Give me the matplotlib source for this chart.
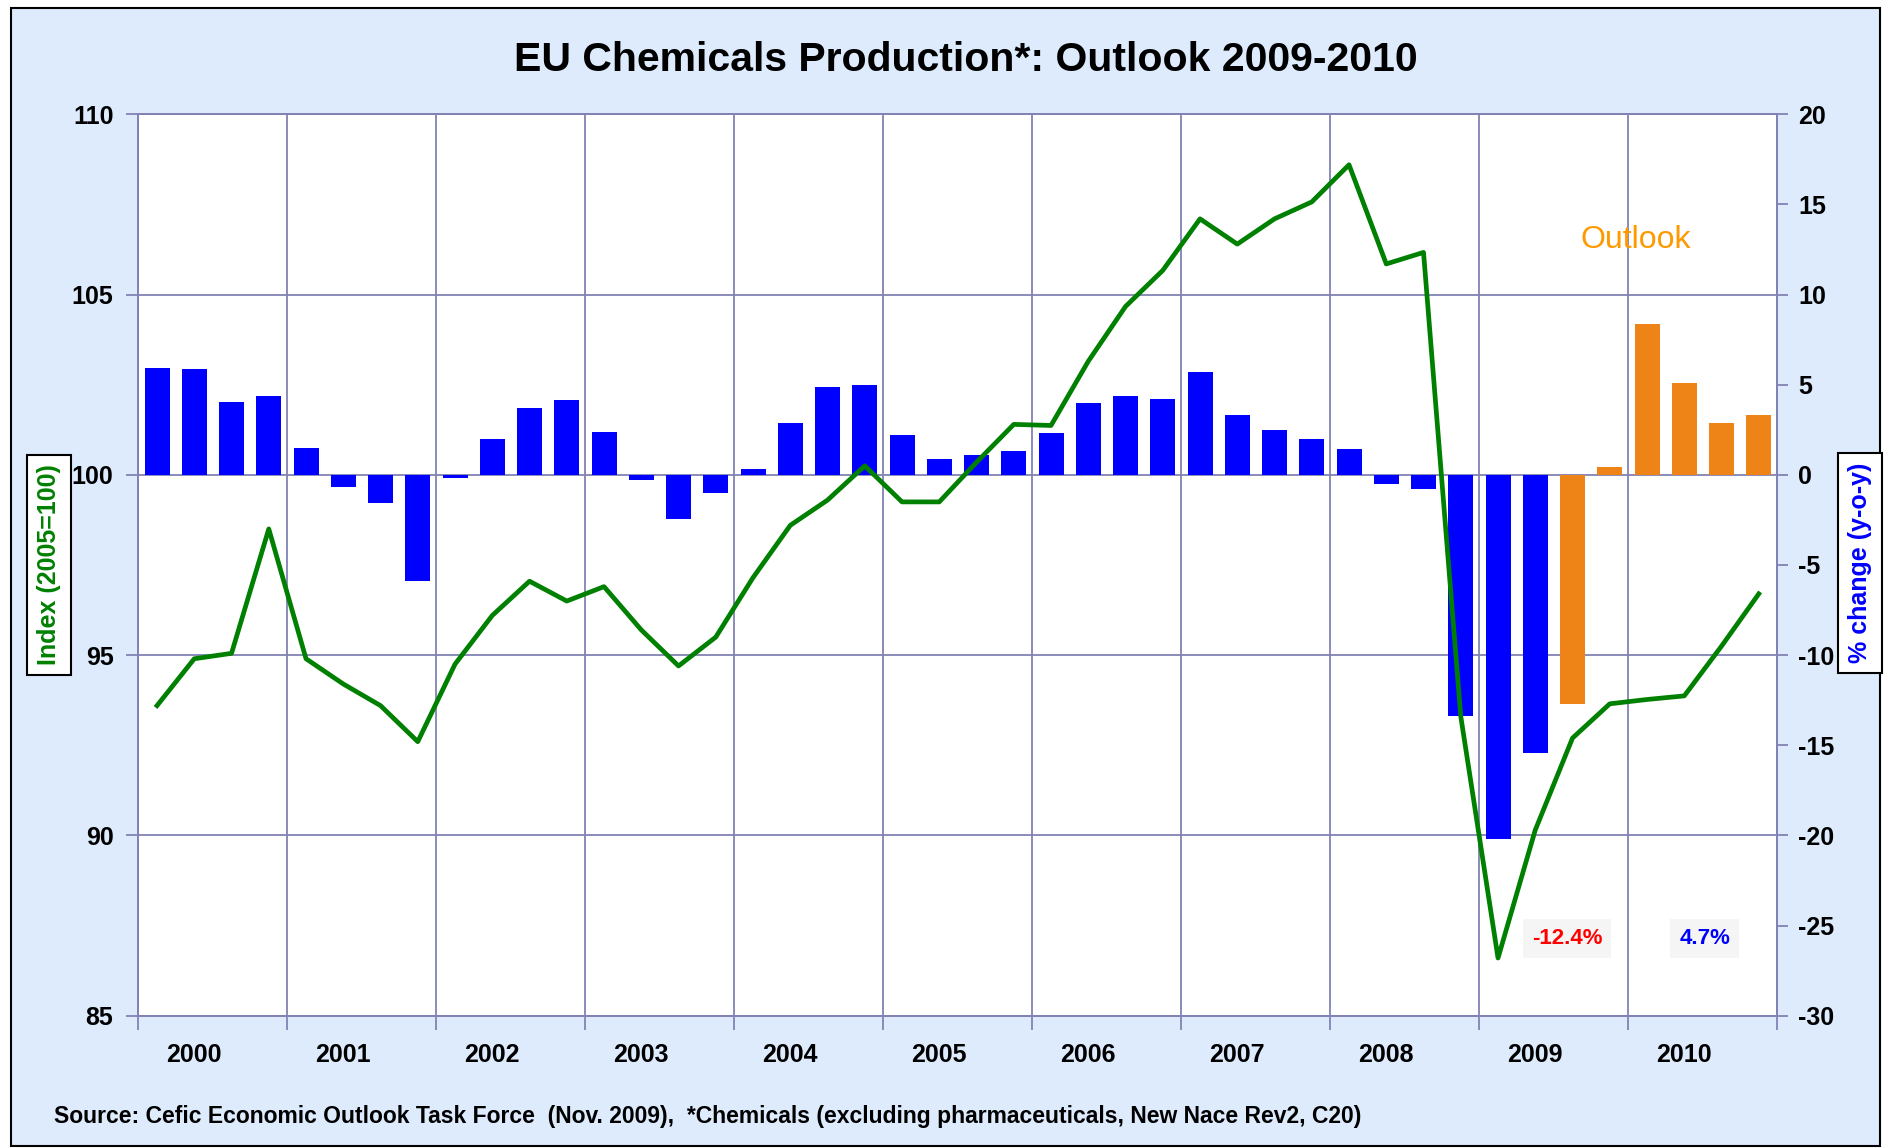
import numpy as np
import matplotlib
matplotlib.use("Agg")
import matplotlib.pyplot as plt
from matplotlib.patches import Rectangle

plt.rcParams['font.family'] = ['Liberation Sans', 'DejaVu Sans']
plt.rcParams['font.weight'] = 'bold'
plt.rcParams['axes.unicode_minus'] = False

# quarterly data, 2000Q1 .. 2010Q4
years = ['2000', '2001', '2002', '2003', '2004', '2005',
         '2006', '2007', '2008', '2009', '2010']

index_vals = [93.6, 94.9, 95.05, 98.5,
              94.9, 94.2, 93.6, 92.6,
              94.75, 96.1, 97.05, 96.5,
              96.9, 95.7, 94.7, 95.5,
              97.15, 98.6, 99.3, 100.25,
              99.25, 99.25, 100.35, 101.4,
              101.37, 103.15, 104.67, 105.67,
              107.1, 106.4, 107.1, 107.57,
              108.6, 105.85, 106.17, 93.3,
              86.6, 90.15, 92.7, 93.65,
              93.77, 93.87, 95.25, 96.7]

yoy_vals = [5.95, 5.85, 4.05, 4.35,
            1.5, -0.7, -1.55, -5.9,
            -0.15, 2.0, 3.7, 4.15,
            2.4, -0.3, -2.45, -1.0,
            0.33, 2.85, 4.9, 5.0,
            2.2, 0.9, 1.1, 1.3,
            2.3, 4.0, 4.35, 4.2,
            5.7, 3.3, 2.5, 2.0,
            1.45, -0.5, -0.8, -13.35,
            -20.2, -15.45, -12.7, 0.45,
            8.35, 5.1, 2.85, 3.3]

n_actual = 38  # from 2009Q3 on it is the outlook

annual_2009 = "-12.4%"
annual_2010 = "4.7%"

grid_c = '#8282B4'
blue = '#0000FF'
orange = '#EE8418'
green = '#008000'

W, H = 1887, 1148
fig = plt.figure(figsize=(W / 100, H / 100), dpi=100)
fig.patch.set_facecolor('white')
fig.patches.append(Rectangle((11 / W, 0.002), (1880 - 11) / W, 1 - 0.002 - 8 / H,
                             transform=fig.transFigure, facecolor='#DDEBFD',
                             edgecolor='black', lw=1.5, zorder=-10))

left, right, top, bottom = 138.4, 1777.4, 114.3, 1015.7
rect = [left / W, 1 - bottom / H, (right - left) / W, (bottom - top) / H]
ax = fig.add_axes(rect)
ax2 = ax.twinx()
ax.set_zorder(2)
ax.patch.set_visible(False)
ax2.patch.set_visible(True)
ax2.patch.set_facecolor('white')

x = np.arange(len(index_vals))
colors = [blue] * n_actual + [orange] * (len(yoy_vals) - n_actual)

# grid on the bar axes so bars sit over it
for v in [-20, -10, 0, 10]:
    ax2.axhline(v, color=grid_c, lw=1.3, zorder=0.5)
for b in np.arange(3.5, 43, 4):
    ax2.axvline(b, color=grid_c, lw=1.3, zorder=0.5)

ax2.bar(x, yoy_vals, width=0.67, color=colors, zorder=2)
ax.plot(x, index_vals, color=green, lw=3.4, zorder=3)

ax.set_xlim(-0.5, 43.5)
ax.set_ylim(85, 110)
ax.set_yticks(range(85, 111, 5))
ax2.set_ylim(-30, 20)
ax2.set_yticks(range(-30, 21, 5))

ax.set_xticks(np.arange(-0.5, 44, 4))
ax.set_xticklabels([])
ax.set_xticks(np.arange(1, 44, 4), minor=True)
ax.set_xticklabels(years, minor=True)
ax.tick_params(axis='x', which='major', direction='out', length=10, width=1.3, color=grid_c)
ax.tick_params(axis='x', which='minor', length=0, pad=20, labelsize=18)
ax.tick_params(axis='y', direction='out', length=9, width=1.3, color=grid_c, pad=9, labelsize=18)
ax2.tick_params(axis='y', direction='out', length=8, width=1.3, color=grid_c, pad=7, labelsize=18)

for a in (ax, ax2):
    for s in a.spines.values():
        s.set_color(grid_c)
        s.set_linewidth(1.4)

ax.text(39.7, 106.5, 'Outlook', color='#FF9900', fontsize=23, fontweight='normal',
        ha='center', va='center')
ax.text(37.85, 87.15, annual_2009, color='#FF0000', fontsize=16, ha='center', va='center',
        bbox=dict(boxstyle='square,pad=0.4', facecolor='#F5F5F5', edgecolor='none'))
ax.text(41.55, 87.15, annual_2010, color='#0000FF', fontsize=16, ha='center', va='center',
        bbox=dict(boxstyle='square,pad=0.4', facecolor='#F5F5F5', edgecolor='none'))

fig.text(49 / W, 1 - 565 / H, 'Index (2005=100)', rotation=90, color=green, fontsize=18,
         ha='center', va='center',
         bbox=dict(boxstyle='square,pad=0.4', facecolor='white', edgecolor='black', lw=1.5))
fig.text(1860 / W, 1 - 563 / H, '% change (y-o-y)', rotation=90, color=blue, fontsize=18,
         ha='center', va='center',
         bbox=dict(boxstyle='square,pad=0.4', facecolor='white', edgecolor='black', lw=1.5))

fig.text(966 / W, 1 - 60 / H, 'EU Chemicals Production*: Outlook 2009-2010',
         fontsize=29.5, ha='center', va='center')
fig.text(54 / W, 1 - 1117 / H,
         'Source: Cefic Economic Outlook Task Force  (Nov. 2009),  *Chemicals (excluding pharmaceuticals, New Nace Rev2, C20)',
         fontsize=16.5, ha='left', va='center')

fig.savefig('out.png', dpi=100, facecolor=fig.get_facecolor())
